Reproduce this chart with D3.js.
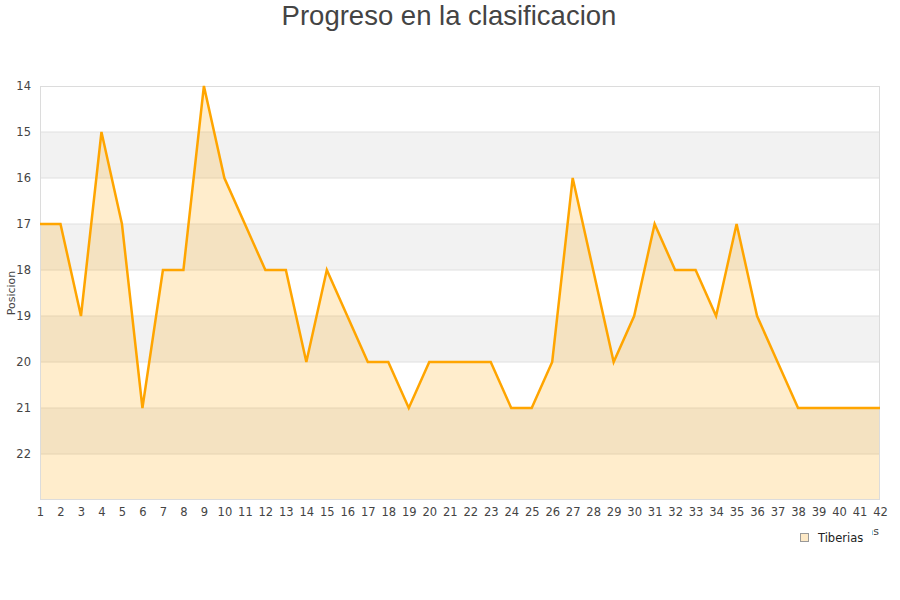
<!DOCTYPE html>
<html><head><meta charset="utf-8">
<script src="https://cdn.jsdelivr.net/npm/d3@7"></script>
<style>body{margin:0;background:#fff}svg{display:block}</style>
</head><body>
<svg id="c" width="900" height="600"></svg>
<script>
const jornadas = d3.range(1, 43);
const posiciones = [17,17,19,15,17,21,18,18,14,16,17,18,18,20,18,19,20,20,21,20,20,20,20,21,21,20,16,18,20,19,17,18,18,19,17,19,20,21,21,21,21,21];
const yTicks = [14,15,16,17,18,19,20,21,22];
const bandas = [15,17,19,21];
const seriesName = "Tiberias";

const svg = d3.select("#c");
const L = 40, R = 880, T = 86, B = 500;
const x = d3.scaleLinear().domain([1, 42]).range([L, R]);
const y = d3.scaleLinear().domain([14, 23]).range([T, B]);

svg.append("text").attr("x", 449).attr("y", 25).attr("text-anchor", "middle")
  .attr("font-family", "Liberation Sans, Arial, sans-serif").attr("font-size", 27.5)
  .attr("fill", "#444").text("Progreso en la clasificacion");

svg.selectAll("rect.band").data(bandas).enter().append("rect")
  .attr("x", L).attr("width", R - L).attr("y", d => y(d)).attr("height", d => y(d + 1) - y(d))
  .attr("fill", "#f2f2f2");

svg.selectAll("line.grid").data(d3.range(15, 23)).enter().append("line")
  .attr("x1", L).attr("x2", R).attr("y1", d => y(d)).attr("y2", d => y(d))
  .attr("stroke", "#e0e0e0").attr("stroke-width", 1);

const data = jornadas.map((j, i) => ({j, p: posiciones[i]}));
svg.append("path").datum(data)
  .attr("d", d3.area().x(d => x(d.j)).y0(B).y1(d => y(d.p)))
  .attr("fill", "rgba(255,165,0,0.2)");

svg.append("rect").attr("x", L + 0.5).attr("y", T + 0.5).attr("width", R - L - 1).attr("height", B - T - 1)
  .attr("fill", "none").attr("stroke", "#dcdcdc");

svg.append("path").datum(data)
  .attr("d", d3.line().x(d => x(d.j)).y(d => y(d.p)))
  .attr("fill", "none").attr("stroke", "#ffa500").attr("stroke-width", 2.5).attr("stroke-linejoin", "miter");

const font = "DejaVu Sans, sans-serif";
const ya = svg.append("g").attr("transform", `translate(${L - 9},0)`)
  .call(d3.axisLeft(y).tickValues(yTicks).tickSize(0).tickPadding(0));
ya.select(".domain").remove();
ya.selectAll("text").attr("font-family", font).attr("font-size", 11.5).attr("fill", "#444");

const xa = svg.append("g").attr("transform", `translate(0,${B + 8})`)
  .call(d3.axisBottom(x).tickValues(jornadas).tickFormat(d3.format("d")).tickSize(0).tickPadding(0));
xa.select(".domain").remove();
xa.selectAll("text").attr("font-family", font).attr("font-size", 11.5).attr("fill", "#444");

svg.append("text").attr("transform", "translate(15,293) rotate(-90)").attr("text-anchor", "middle")
  .attr("font-family", font).attr("font-size", 11).attr("fill", "#444").text("Posicion");

svg.append("text").attr("x", 879).attr("y", 535).attr("text-anchor", "end")
  .attr("font-family", font).attr("font-size", 11).attr("fill", "#444").text("Jornadas");

const lg = svg.append("g");
lg.append("rect").attr("x", 795).attr("y", 527).attr("width", 77).attr("height", 22).attr("fill", "#fff");
lg.append("rect").attr("x", 800.5).attr("y", 533.5).attr("width", 8).attr("height", 8)
  .attr("fill", "#fde9c6").attr("stroke", "#999");
lg.append("text").attr("x", 818).attr("y", 541.5).attr("font-family", font).attr("font-size", 11.5)
  .attr("fill", "#222").text(seriesName);
</script>
</body></html>
